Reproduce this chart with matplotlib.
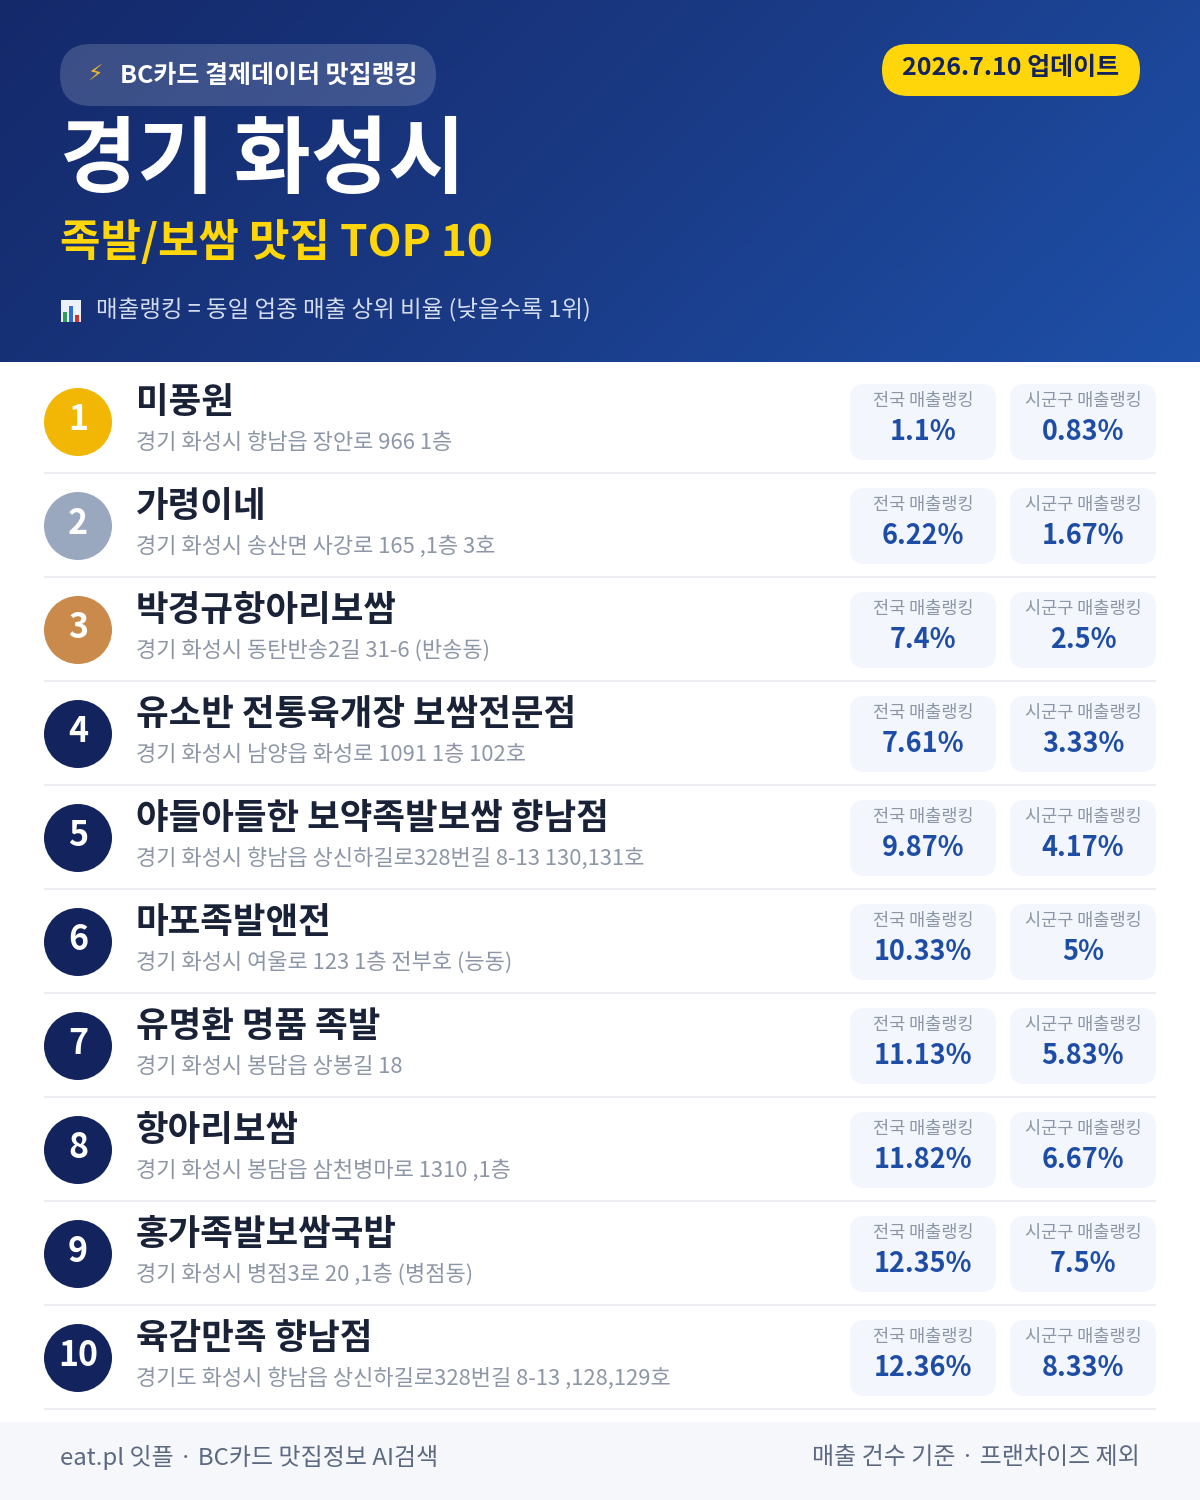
import numpy as np
import matplotlib
matplotlib.use("Agg")
import matplotlib.pyplot as plt
from matplotlib.patches import FancyBboxPatch, Circle, Rectangle
from matplotlib.colors import LinearSegmentedColormap

plt.rcParams['font.family'] = ['Noto Sans CJK KR', 'DejaVu Sans']

ranks = [1, 2, 3, 4, 5, 6, 7, 8, 9, 10]
names = ["미풍원", "가령이네", "박경규항아리보쌈", "유소반 전통육개장 보쌈전문점",
         "야들아들한 보약족발보쌈 향남점", "마포족발앤전", "유명환 명품 족발", "항아리보쌈",
         "홍가족발보쌈국밥", "육감만족 향남점"]
addresses = ["경기 화성시 향남읍 장안로 966 1층", "경기 화성시 송산면 사강로 165 ,1층 3호",
             "경기 화성시 동탄반송2길 31-6 (반송동)", "경기 화성시 남양읍 화성로 1091 1층 102호",
             "경기 화성시 향남읍 상신하길로328번길 8-13 130,131호", "경기 화성시 여울로 123 1층 전부호 (능동)",
             "경기 화성시 봉담읍 상봉길 18", "경기 화성시 봉담읍 삼천병마로 1310 ,1층",
             "경기 화성시 병점3로 20 ,1층 (병점동)", "경기도 화성시 향남읍 상신하길로328번길 8-13 ,128,129호"]
national = ["1.1%", "6.22%", "7.4%", "7.61%", "9.87%", "10.33%", "11.13%", "11.82%", "12.35%", "12.36%"]
district = ["0.83%", "1.67%", "2.5%", "3.33%", "4.17%", "5%", "5.83%", "6.67%", "7.5%", "8.33%"]
badge_colors = ["#F2B705", "#9AA8BF", "#C98A4B"] + ["#12235E"] * 7

fig = plt.figure(figsize=(12, 15), dpi=100, facecolor="white")
ax = fig.add_axes([0, 0, 1, 1])
ax.set_xlim(0, 1200)
ax.set_ylim(1500, 0)
ax.axis("off")


def fs(px):
    return px * 72 / 100


def label(x, y, s, px, color, weight="regular", ha="left", va="center", **kw):
    return ax.text(x, y, s, fontsize=fs(px), color=color, fontweight=weight, ha=ha, va=va, **kw)


def rbox(x0, y0, x1, y1, r, **kw):
    p = FancyBboxPatch((x0 + r, y0 + r), x1 - x0 - 2 * r, y1 - y0 - 2 * r,
                       boxstyle=f"round,pad={r},rounding_size={r}", linewidth=0, **kw)
    ax.add_patch(p)
    return p


# header gradient
xx, yy = np.meshgrid(np.linspace(0, 1, 300), np.linspace(0, 1, 90))
grad = (xx * 1200 + yy * 362) / (1200 + 362)
cmap = LinearSegmentedColormap.from_list("hdr", ["#14296A", "#1A3A85", "#1E50A8"])
ax.imshow(grad, extent=[0, 1200, 362, 0], cmap=cmap, aspect="auto", zorder=0, vmin=0, vmax=1)
ax.set_xlim(0, 1200)
ax.set_ylim(1500, 0)

# header pill
rbox(60, 44, 436, 106, 31, facecolor="#FFFFFF", alpha=0.17, zorder=1)
label(95, 75, "⚡", 22, "#F5B82E", ha="center", zorder=3, family="DejaVu Sans")
label(120, 76, "BC카드 결제데이터 맛집랭킹", 25, "white", "bold", zorder=3)

# update pill
rbox(882, 44, 1140, 96, 26, facecolor="#FFD60A", zorder=1)
label(1011, 68, "2026.7.10 업데이트", 25, "#12235E", "bold", ha="center", zorder=3)

# titles
label(60, 162, "경기 화성시", 84, "white", "bold", zorder=3)
label(60, 243, "족발/보쌈 맛집 TOP 10", 44, "#FFD60A", "bold", zorder=3)

# chart icon
ax.add_patch(Rectangle((61, 300), 20, 22, facecolor="#EEF2F7", linewidth=0, zorder=3))
for bx, by, bc in ((63, 312, "#2E9E5B"), (69, 306, "#2E6FD0"), (75, 315, "#D0342C")):
    ax.add_patch(Rectangle((bx, by), 4, 322 - by, facecolor=bc, linewidth=0, zorder=4))
label(96, 310, "매출랭킹 = 동일 업종 매출 상위 비율 (낮을수록 1위)", 23.5, "#D3DCEC", zorder=3)

# rows
step = 104
for i, rank in enumerate(ranks):
    off = step * i
    ax.add_patch(Circle((78, 422 + off), 34, facecolor=badge_colors[i], linewidth=0, zorder=2))
    label(78, 419 + off, str(rank), 34, "white", "bold", ha="center", zorder=3)
    label(136, 403 + off, names[i], 35.5, "#1A2238", "bold", zorder=3)
    label(136, 443 + off, addresses[i], 22, "#8C96A6", zorder=3)
    for (x0, x1, head, val) in ((850, 996, "전국 매출랭킹", national[i]),
                                (1010, 1156, "시군구 매출랭킹", district[i])):
        rbox(x0, 384 + off, x1, 460 + off, 15, facecolor="#F3F6FC", zorder=1)
        cx = (x0 + x1) / 2
        label(cx, 401 + off, head, 17.5, "#8C96A6", "medium", ha="center", zorder=3)
        label(cx, 432 + off, val, 27, "#1E4DA6", "bold", ha="center", zorder=3)
    ax.add_patch(Rectangle((44, 472 + off), 1112, 2, facecolor="#EDEEF1", linewidth=0, zorder=1))

# footer
ax.add_patch(Rectangle((0, 1422), 1200, 78, facecolor="#F5F7FB", linewidth=0, zorder=1))
label(60, 1458, "eat.pl 잇플 · BC카드 맛집정보 AI검색", 24, "#5C6980", "medium", zorder=3)
label(1140, 1458, "매출 건수 기준 · 프랜차이즈 제외", 24, "#5C6980", "medium", ha="right", zorder=3)

fig.savefig("out.png", dpi=100, facecolor="white")
